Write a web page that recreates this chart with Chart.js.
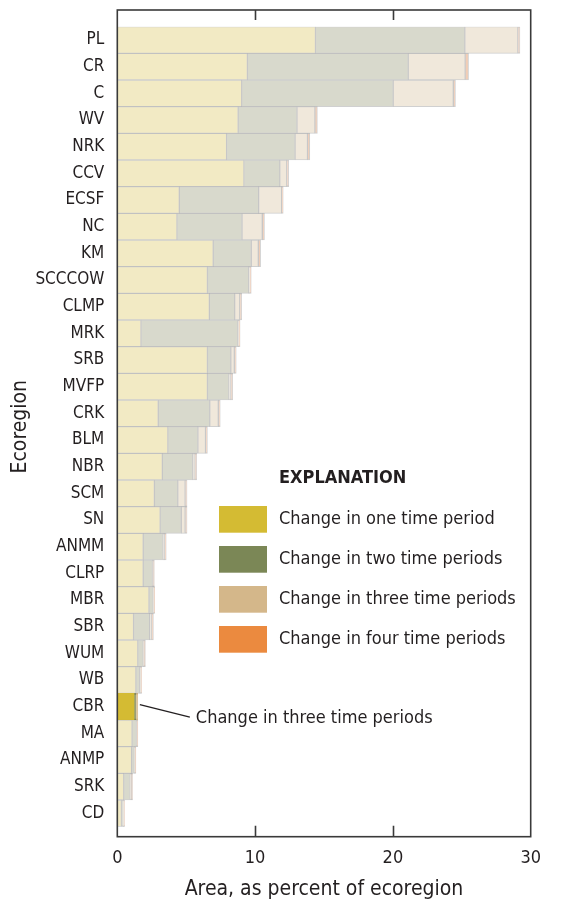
<!DOCTYPE html>
<html>
<head>
<meta charset="utf-8">
<script src="https://cdn.jsdelivr.net/npm/chart.js@4.4.0/dist/chart.umd.min.js"></script>
<style>
  html, body { margin: 0; padding: 0; background: #fff; }
  #chart { display: block; }
</style>
</head>
<body>
<canvas id="chart" width="562" height="905"></canvas>
<script>
// Ecorregiões, de cima para baixo
const ecoregions = ['PL', 'CR', 'C', 'WV', 'NRK', 'CCV', 'ECSF', 'NC', 'KM', 'SCCCOW',
    'CLMP', 'MRK', 'SRB', 'MVFP', 'CRK', 'BLM', 'NBR', 'SCM', 'SN', 'ANMM',
    'CLRP', 'MBR', 'SBR', 'WUM', 'WB', 'CBR', 'MA', 'ANMP', 'SRK', 'CD'];

// Área (% da ecorregião) por número de períodos com mudança
const oneTimePeriod = [14.38, 9.44, 9.03, 8.77, 7.93, 9.19, 4.50, 4.33, 6.96, 6.54,
    6.68, 1.72, 6.54, 6.54, 2.97, 3.67, 3.27, 2.69, 3.11, 1.88,
    1.88, 2.30, 1.18, 1.49, 1.35, 1.23, 1.07, 1.04, 0.47, 0.30];
const twoTimePeriods = [10.84, 11.67, 10.99, 4.27, 4.97, 2.60, 5.76, 4.72, 2.76, 3.00,
    1.84, 7.03, 1.70, 1.56, 3.74, 2.18, 2.21, 1.70, 1.53, 1.44,
    0.67, 0.30, 1.17, 0.39, 0.28, 0.12, 0.32, 0.19, 0.46, 0.11];
const threeTimePeriods = [3.85, 4.13, 4.36, 1.30, 0.90, 0.51, 1.67, 1.47, 0.51, 0.08,
    0.37, 0.06, 0.25, 0.14, 0.62, 0.55, 0.16, 0.53, 0.28, 0.12,
    0.07, 0.06, 0.16, 0.07, 0.07, 0.14, 0.05, 0.06, 0.09, 0.06];
const fourTimePeriods = [0.15, 0.25, 0.16, 0.18, 0.17, 0.14, 0.11, 0.16, 0.17, 0.10,
    0.14, 0.10, 0.14, 0.14, 0.14, 0.14, 0.12, 0.14, 0.14, 0.11,
    0.07, 0.06, 0.11, 0.09, 0.07, 0.00, 0.05, 0.06, 0.09, 0.06];

const xTicks = [0, 10, 20, 30];
const seriesLabels = ['Change in one time period', 'Change in two time periods',
    'Change in three time periods', 'Change in four time periods'];
const highlighted = 'CBR';
const calloutText = 'Change in three time periods';

// Cores cheias (legenda e barra destacada) e cores esmaecidas (demais barras)
const fullColors = ['#D4BB33', '#7B8756', '#D4B78A', '#EB8A3F'];
const paleColors = ['#F2EAC4', '#D8D9CC', '#F0E8DB', '#F1CDB6'];

const FONT = "'Liberation Sans Narrow', 'DejaVu Sans Condensed', 'Arial Narrow', sans-serif";
const TEXT = '#231F20';
const hiIndex = ecoregions.indexOf(highlighted);

function makeDataset(label, values, i) {
    return {
        label: label,
        data: values,
        backgroundColor: ctx => ctx.dataIndex === hiIndex ? fullColors[i] : paleColors[i],
        borderColor: ctx => ctx.dataIndex === hiIndex ? fullColors[i] : 'rgba(150,150,150,0.45)',
        borderWidth: 1,
        borderSkipped: false,
        barPercentage: 1,
        categoryPercentage: 1
    };
}

// Moldura, marcas internas, legenda e chamada
const extrasPlugin = {
    id: 'extras',
    afterDraw(chart) {
        const { ctx, chartArea: a, scales } = chart;
        const xs = scales.x, ys = scales.y;
        const top = a.top - 16.7, bottom = a.bottom + 10;
        ctx.save();

        ctx.strokeStyle = '#3A3A3A';
        ctx.lineWidth = 1.6;
        ctx.strokeRect(a.left, top, a.right - a.left, bottom - top);
        xTicks.slice(1, -1).forEach(v => {
            const x = Math.round(xs.getPixelForValue(v)) + 0.5;
            ctx.beginPath();
            ctx.moveTo(x, bottom); ctx.lineTo(x, bottom - 11);
            ctx.moveTo(x, top); ctx.lineTo(x, top + 10);
            ctx.stroke();
        });

        // Legenda
        ctx.fillStyle = TEXT;
        ctx.textBaseline = 'middle';
        ctx.textAlign = 'left';
        ctx.font = 'bold 18px ' + FONT;
        ctx.fillText('EXPLANATION', 279, 478);
        ctx.font = '18px ' + FONT;
        seriesLabels.forEach((label, i) => {
            const y = 506 + i * 40;
            ctx.fillStyle = fullColors[i];
            ctx.fillRect(219, y, 48, 26.7);
            ctx.fillStyle = TEXT;
            ctx.fillText(label, 279, y + 13.5);
        });

        // Chamada para a barra destacada
        const total = oneTimePeriod[hiIndex] + twoTimePeriods[hiIndex] +
            threeTimePeriods[hiIndex] + fourTimePeriods[hiIndex];
        const x0 = xs.getPixelForValue(total) + 2;
        const y0 = ys.getPixelForValue(hiIndex) - 2;
        ctx.strokeStyle = TEXT;
        ctx.lineWidth = 1.3;
        ctx.beginPath();
        ctx.moveTo(x0, y0);
        ctx.lineTo(x0 + 50, y0 + 12.5);
        ctx.stroke();
        ctx.fillText(calloutText, x0 + 56, y0 + 14);

        ctx.restore();
    }
};

new Chart(document.getElementById('chart'), {
    type: 'bar',
    data: {
        labels: ecoregions,
        datasets: [
            makeDataset(seriesLabels[0], oneTimePeriod, 0),
            makeDataset(seriesLabels[1], twoTimePeriods, 1),
            makeDataset(seriesLabels[2], threeTimePeriods, 2),
            makeDataset(seriesLabels[3], fourTimePeriods, 3)
        ]
    },
    options: {
        indexAxis: 'y',
        responsive: false,
        animation: false,
        events: [],
        layout: { padding: { top: 26.7, right: 13.5, bottom: 0, left: 0 } },
        plugins: { legend: { display: false }, tooltip: { enabled: false } },
        scales: {
            x: {
                stacked: true,
                min: 0,
                max: 30,
                afterFit: s => { s.height = 78.3; },
                afterBuildTicks: s => { s.ticks = xTicks.map(v => ({ value: v })); },
                grid: { display: false, drawTicks: false },
                border: { display: false },
                ticks: { color: TEXT, font: { family: FONT, size: 18 }, padding: 21 },
                title: {
                    display: true,
                    text: 'Area, as percent of ecoregion',
                    color: TEXT,
                    font: { family: FONT, size: 21 },
                    padding: { top: 0, bottom: 3 }
                }
            },
            y: {
                stacked: true,
                afterFit: s => { s.width = 117.3; },
                grid: { display: false, drawTicks: false },
                border: { display: false },
                ticks: { color: TEXT, font: { family: FONT, size: 17 }, padding: 13, autoSkip: false },
                title: {
                    display: true,
                    text: 'Ecoregion',
                    color: TEXT,
                    font: { family: FONT, size: 21 },
                    padding: { top: 8, bottom: 0 }
                }
            }
        }
    },
    plugins: [extrasPlugin]
});
</script>
</body>
</html>
